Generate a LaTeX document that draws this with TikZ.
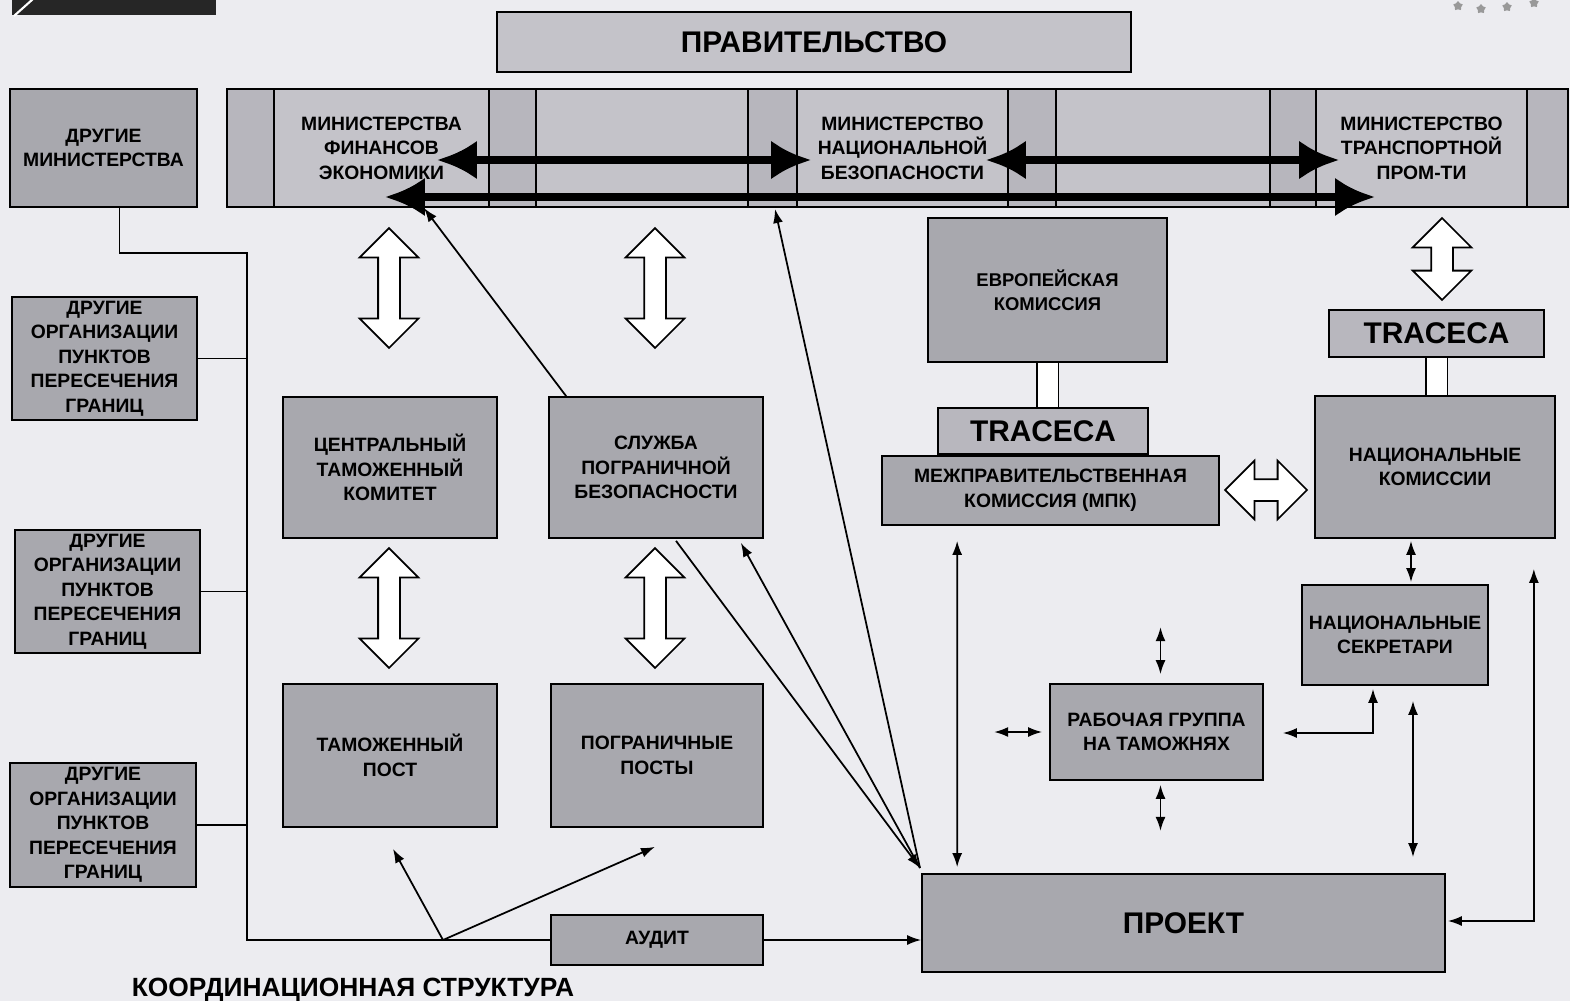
\documentclass[tikz,border=0pt]{standalone}
\usepackage{fontspec}
\setmainfont{Liberation Sans}
\usetikzlibrary{positioning, arrows.meta, calc, shapes}

\definecolor{bgcol}{RGB}{236,236,240}
\definecolor{boxcol}{RGB}{168,168,174}
\definecolor{bandcol}{RGB}{196,195,201}
\definecolor{celldark}{RGB}{183,182,189}
\definecolor{tracecol}{RGB}{184,183,190}

\begin{document}
\begin{tikzpicture}[x=0.02cm, y=-0.02cm, >={Latex[length=0.28cm,width=0.2cm]},
	box/.style={draw, line width=1pt, fill=boxcol, align=center, inner sep=1pt, font=\bfseries\fontsize{11}{14}\selectfont},
	cell/.style={box, fill=bandcol, minimum height=2.36cm},
	big/.style={font=\bfseries\fontsize{17}{20}\selectfont},
	link/.style={line width=1pt},
	fat/.style={line width=4.5pt, {Latex[length=0.8cm,width=0.78cm]}-{Latex[length=0.8cm,width=0.78cm]}},
	dbl/.style={double arrow, draw, fill=white, line width=1pt, inner xsep=0pt, inner ysep=0.2cm, minimum width=1.14cm, double arrow head extend=0.37cm},
	bar/.style={line width=1pt, double=white, double distance=0.4cm}]

	%Page
	\fill[bgcol] (0,0) rectangle (1570,1001);
	\useasboundingbox (0,0) rectangle (1570,1001);
	\fill[black!85] (12,0) rectangle (216,15);
	\draw[white, line width=1.2pt] (14,16) -- (33,-1);
	\foreach \sx/\sy in {1458/6, 1481/9, 1507/7, 1534/3}
		\node[star, fill=gray!80, inner sep=0pt, minimum size=0.2cm] (star\sx) at (\sx,\sy) {};

	%Government and ministries
	\node[box, big, fill=bandcol, minimum width=12.68cm, minimum height=1.2cm] (gov) at (814,42) {ПРАВИТЕЛЬСТВО};
	\node[box, fill=celldark, minimum width=26.82cm, minimum height=2.36cm] (band) at (897.5,148) {};
	\node[cell, minimum width=4.3cm] (minfin) at (381.5,148) {МИНИСТЕРСТВА\\ФИНАНСОВ\\ЭКОНОМИКИ};
	\node[cell, minimum width=4.24cm] (gapa) at (642,148) {};
	\node[cell, minimum width=4.22cm] (minsec) at (902.5,148) {МИНИСТЕРСТВО\\НАЦИОНАЛЬНОЙ\\БЕЗОПАСНОСТИ};
	\node[cell, minimum width=4.28cm] (gapb) at (1163,148) {};
	\node[cell, minimum width=4.22cm] (mintrans) at (1421.5,148) {МИНИСТЕРСТВО\\ТРАНСПОРТНОЙ\\ПРОМ-ТИ};

	%Left column
	\node[box, minimum width=3.74cm, minimum height=2.36cm] (othmin) at (103.5,148) {ДРУГИЕ\\МИНИСТЕРСТВА};
	\node[box, minimum width=3.7cm, minimum height=2.46cm] (orgA) at (104.5,358.5) {ДРУГИЕ\\ОРГАНИЗАЦИИ\\ПУНКТОВ\\ПЕРЕСЕЧЕНИЯ\\ГРАНИЦ};
	\node[box, minimum width=3.7cm, minimum height=2.46cm] (orgB) at (107.5,591.5) {ДРУГИЕ\\ОРГАНИЗАЦИИ\\ПУНКТОВ\\ПЕРЕСЕЧЕНИЯ\\ГРАНИЦ};
	\node[box, minimum width=3.72cm, minimum height=2.48cm] (orgC) at (103,825) {ДРУГИЕ\\ОРГАНИЗАЦИИ\\ПУНКТОВ\\ПЕРЕСЕЧЕНИЯ\\ГРАНИЦ};

	%Customs and border service
	\node[box, minimum width=4.28cm, minimum height=2.82cm] (ctk) at (390,467.5) {ЦЕНТРАЛЬНЫЙ\\ТАМОЖЕННЫЙ\\КОМИТЕТ};
	\node[box, minimum width=4.28cm, minimum height=2.82cm] (spb) at (656,467.5) {СЛУЖБА\\ПОГРАНИЧНОЙ\\БЕЗОПАСНОСТИ};
	\node[box, minimum width=4.28cm, minimum height=2.86cm] (tpost) at (390,755.5) {ТАМОЖЕННЫЙ\\ПОСТ};
	\node[box, minimum width=4.24cm, minimum height=2.86cm] (ppost) at (657,755.5) {ПОГРАНИЧНЫЕ\\ПОСТЫ};
	\node[box, minimum width=4.24cm, minimum height=1cm] (audit) at (657,940) {АУДИТ};

	%Right part
	\node[box, font=\bfseries\fontsize{10.5}{13.6}\selectfont, minimum width=4.78cm, minimum height=2.88cm] (ec) at (1047.5,290) {ЕВРОПЕЙСКАЯ\\КОМИССИЯ};
	\node[box, minimum width=6.74cm, minimum height=1.38cm] (mpk) at (1050.5,490.5) {МЕЖПРАВИТЕЛЬСТВЕННАЯ\\КОМИССИЯ (МПК)};
	\node[box, big, fill=tracecol, minimum width=4.2cm, minimum height=0.92cm] (traceA) [above=0pt of mpk, xshift=-0.15cm] {TRACECA};
	\node[box, big, fill=tracecol, minimum width=4.3cm, minimum height=0.94cm] (traceB) at (1436.5,333.5) {TRACECA};
	\node[box, minimum width=4.8cm, minimum height=2.84cm] (natcom) at (1435,467) {НАЦИОНАЛЬНЫЕ\\КОМИССИИ};
	\node[box, minimum width=3.72cm, minimum height=2cm] (natsec) at (1395,635) {НАЦИОНАЛЬНЫЕ\\СЕКРЕТАРИ};
	\node[box, minimum width=4.26cm, minimum height=1.92cm] (wgroup) at (1156.5,732) {РАБОЧАЯ ГРУППА\\НА ТАМОЖНЯХ};
	\node[box, big, minimum width=10.46cm, minimum height=1.96cm] (proj) at (1183.5,923) {ПРОЕКТ};

	%Block arrows
	\node[dbl, rotate=90, minimum height=2.4cm] (upA) at (389,288) {};
	\node[dbl, rotate=90, minimum height=2.4cm] (upB) at (655,288) {};
	\node[dbl, rotate=90, minimum height=2.4cm] (dnA) at (389,608) {};
	\node[dbl, rotate=90, minimum height=2.4cm] (dnB) at (655,608) {};
	\node[dbl, rotate=90, minimum height=1.64cm] (upC) at (1442,259) {};
	\node[dbl, minimum height=1.64cm] (side) at (1266,490) {};
	\draw[bar] (ec.south) -- (ec.south |- traceA.north);
	\draw[bar] (traceB.south) -- (traceB.south |- natcom.north);

	%Thick arrows in the ministries band
	\draw[fat] ($(minfin.center)+(55.5,12)$) -- ($(minsec.west)+(15,12)$);
	\draw[fat] ($(minsec.east)+(-23,12)$) -- ($(mintrans.west)+(24,12)$);
	\draw[fat] ($(minfin.center)+(3.5,49)$) -- ($(mintrans.center)+(-46.5,49)$);

	%Wiring on the left
	\coordinate (busT) at (247,253);
	\coordinate (busB) at (247,940);
	\draw[link] ($(othmin.south)+(16,0)$) |- (busT) -- (busB) -- (audit.west);
	\foreach \o in {orgA, orgB, orgC}
		\draw[link] (\o.east) -- (\o.east -| busT);
	\draw[link, ->] (audit.east) -- (audit.east -| proj.west);
	\coordinate (fork) at (443,940);
	\draw[link, ->] (fork) -- ($(tpost.south)+(3,21)$);
	\draw[link, ->] (fork) -- ($(ppost.south)+(-2,19)$);

	%Links of the project
	\coordinate (hub) at (920,868);
	\coordinate (hitA) at (424,208);
	\coordinate (hitB) at (775,209);
	\draw[link, ->] ($(spb.north west)+(18,0)$) -- (hitA);
	\draw[link, ->] (hub) -- (hitB);
	\draw[link, ->] ($(spb.south)+(20,2)$) -- (hub);
	\draw[link, ->] (hub) -- ($(spb.south east)+(-23,4)$);
	\draw[link, <->] ($(mpk.south west)+(76,15)$) -- ($(proj.north west)+(36,-6)$);
	\draw[link, <->] ($(natcom.south)+(-24,2)$) -- ($(natsec.north)+(16,-2)$);
	\draw[link, <->] ($(natsec.south)+(18,15)$) -- ($(proj.north)+(229.5,-16)$);
	\draw[link, <->] ($(natsec.south)+(-22,3)$) |- ($(wgroup.east)+(19,1)$);
	\draw[link, <->] ($(natcom.south east)+(-22,30)$) |- ($(proj.east)+(2,-2)$);
	\draw[link, <->] ($(wgroup.north)+(4,-9)$) -- ++(0,-47);
	\draw[link, <->] ($(wgroup.south)+(4,4)$) -- ++(0,46);
	\draw[link, <->] ($(wgroup.west)+(-7,0)$) -- ++(-48,0);

	%Caption
	\node[font=\bfseries\fontsize{15}{18}\selectfont, anchor=base] (caption) at (353,996) {КООРДИНАЦИОННАЯ СТРУКТУРА};

\end{tikzpicture}
\end{document}
